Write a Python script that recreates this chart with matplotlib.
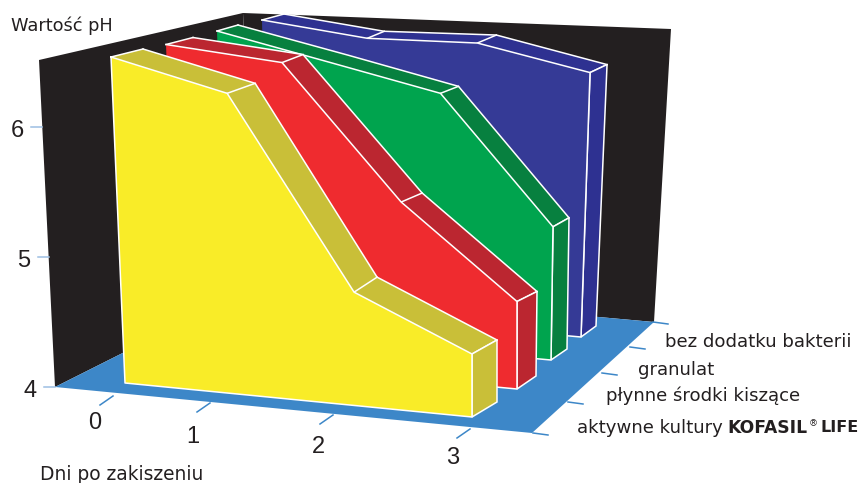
import numpy as np
import matplotlib
matplotlib.use('Agg')
import matplotlib.pyplot as plt

# ------------------------------------------------------------
# data
# ------------------------------------------------------------
days = [0, 1, 2, 3]
ph_ticks = [4, 5, 6]
series_names = ['aktywne kultury', 'płynne środki kiszące', 'granulat', 'bez dodatku bakterii']
ph_kofasil = [6.5, 6.33, 4.89, 4.5]
ph_plynne = [6.5, 6.44, 5.41, 4.7]
ph_granulat = [6.5, 6.32, 6.14, 5.11]
ph_bez = [6.5, 6.41, 6.44, 6.26]

# ------------------------------------------------------------
# pseudo 3D layout: each series has its own base line on the floor,
# a pixel "up" vector per pH unit (day 0 and day 3), the place of each day
# along the base line and the depth vector of the top and of the floor end
# ------------------------------------------------------------
layout = [
    dict(ph=ph_kofasil, face='#F9EC28', side='#C9BF38', base=[(125, 383), (472, 417)],
         up=[(-5.6, -130.4), (0, -126)], frac=[0, 0.32, 0.665, 1],
         off=[(32, -8), (28, -10), (23, -15), (25, -14)], off_floor=(25, -15)),
    dict(ph=ph_plynne, face='#EF2B2F', side='#BB2630', base=[(178, 357), (517, 389)],
         up=[(-4.8, -125), (0, -125)], frac=[0, 0.33, 0.665, 1],
         off=[(27, -7), (21, -8), (21, -9), (20, -10)], off_floor=(19, -13)),
    dict(ph=ph_granulat, face='#00A44E', side='#07803F', base=[(227, 331), (551, 360)],
         up=[(-4, -120), (1.8, -120)], frac=[0, 0.33, 0.66, 1],
         off=[(21, -6), (19, -7), (18, -7), (16, -9)], off_floor=(16, -11)),
    dict(ph=ph_bez, face='#353A96', side='#2E3191', base=[(268, 309), (581, 337)],
         up=[(-2.4, -115.6), (4, -117)], frac=[0, 0.32, 0.655, 1],
         off=[(22, -6), (17, -7), (19, -8), (17, -8)], off_floor=(15, -11)),
]

WALL = '#231F20'
FLOOR = '#3D87C8'
TEXT = '#231F20'
EDGE = 'white'
LW = 1.1


def lerp(pair, t):
    a, b = np.array(pair[0], float), np.array(pair[1], float)
    return a + (b - a) * t


def project(s, k, ph):
    t = s['frac'][k]
    return lerp(s['base'], t) + lerp(s['up'], t) * (ph - 4)


fig = plt.figure(figsize=(8.62, 4.83), dpi=100)
ax = fig.add_axes([0, 0, 1, 1])
ax.set_xlim(0, 862)
ax.set_ylim(483, 0)
ax.axis('off')

# walls and floor
ax.fill([39, 243, 256, 55], [60, 13, 286, 387], color=WALL, lw=0, zorder=1)
ax.fill([243, 671, 654, 256], [13, 29, 322, 286], color=WALL, lw=0, zorder=1)
ax.fill([55, 532, 654, 256], [387, 433, 322, 286], color=FLOOR, lw=0, zorder=1)

# series, back to front
for i, s in reversed(list(enumerate(layout))):
    z = 10 + (len(layout) - i) * 3
    n = len(days)
    top = np.array([project(s, k, s['ph'][k]) for k in range(n)])
    b0 = project(s, 0, 4)
    b3 = project(s, n - 1, 4)
    back = top + np.array(s['off'], float)
    # strip along the top, no edge of its own
    strip = np.vstack([top, back[::-1]])
    ax.fill(strip[:, 0], strip[:, 1], facecolor=s['side'], edgecolor='none', zorder=z)
    ax.plot(back[:, 0], back[:, 1], color=EDGE, lw=LW, zorder=z)
    # crease across the strip, only where the line really bends
    for k in range(n):
        if 0 < k < n - 1:
            a = top[k] - top[k - 1]
            b = top[k + 1] - top[k]
            bend = abs(np.arctan2(b[1], b[0]) - np.arctan2(a[1], a[0]))
            if bend < np.radians(3):
                continue
        ax.plot([top[k, 0], back[k, 0]], [top[k, 1], back[k, 1]], color=EDGE, lw=LW, zorder=z)
    # end cap at the last day
    end = np.array([top[-1], back[-1], b3 + np.array(s['off_floor']), b3])
    ax.fill(end[:, 0], end[:, 1], facecolor=s['side'], edgecolor=EDGE, lw=LW, zorder=z)
    # front face
    face = np.vstack([top, b3, b0])
    ax.fill(face[:, 0], face[:, 1], facecolor=s['face'], edgecolor='none', zorder=z + 1)
    outline = np.vstack([top, b3, b0])
    if i == 0:
        outline = np.vstack([outline, top[0]])
    ax.plot(outline[:, 0], outline[:, 1], color=EDGE, lw=LW, solid_joinstyle='round', zorder=z + 2)

# pH axis on the left wall corner
for p in ph_ticks:
    x = 55 - 6.4 * (p - 4)
    y = 387 - 130 * (p - 4)
    ax.plot([x - 11, x], [y, y], color='#9DBFE3', lw=1.1)
    ax.text(x - 25, y + 4, str(p), family='Liberation Sans', fontsize=17, color=TEXT,
            ha='center', va='center')

# day axis
day_tick_x = [113, 210, 333, 470]
day_tick_y = [396, 403, 415, 429]
day_label_x = [95, 193, 318, 453]
day_label_y = [423, 437, 447, 458]
for d, tx, ty, lx, ly in zip(days, day_tick_x, day_tick_y, day_label_x, day_label_y):
    ax.plot([tx, tx - 13], [ty, ty + 9], color=FLOOR, lw=1.1)
    ax.text(lx, ly, str(d), family='Liberation Sans', fontsize=17, color=TEXT, ha='center', va='center')

# depth axis ticks
depth_tick_x = [533, 568, 602, 630, 653]
depth_tick_y = [433, 402, 373, 347, 322]
for tx, ty in zip(depth_tick_x, depth_tick_y):
    ax.plot([tx, tx + 15], [ty, ty + 2], color=FLOOR, lw=1.1)

# series labels
label_x = [577, 606, 638, 665]
label_y = [428, 396, 370, 342]
LABEL_SIZE = 13.1
for name, lx, ly in zip(series_names, label_x, label_y):
    ax.text(lx, ly, name, fontsize=LABEL_SIZE, color=TEXT, va='center', ha='left')

fig.canvas.draw()
rend = fig.canvas.get_renderer()
first = ax.texts[-4]
end_x = first.get_window_extent(rend).x1
kof = ax.text(end_x + 5, label_y[0], 'KOFASIL', fontsize=12.3, fontweight='bold', color=TEXT,
              va='center', ha='left')
end_x = kof.get_window_extent(rend).x1
reg = ax.text(end_x + 1, label_y[0] - 4, '®', fontsize=6.5, color=TEXT, va='center', ha='left')
end_x = reg.get_window_extent(rend).x1
ax.text(end_x + 3, label_y[0], 'LIFE', fontsize=11.5, fontweight='bold', color=TEXT, va='center', ha='left')

ax.text(11, 26, 'Wartość pH', fontsize=12.8, color=TEXT, va='center', ha='left')
ax.text(40, 474, 'Dni po zakiszeniu', fontsize=13.4, color=TEXT, va='center', ha='left')

fig.savefig('out.png', dpi=100)
